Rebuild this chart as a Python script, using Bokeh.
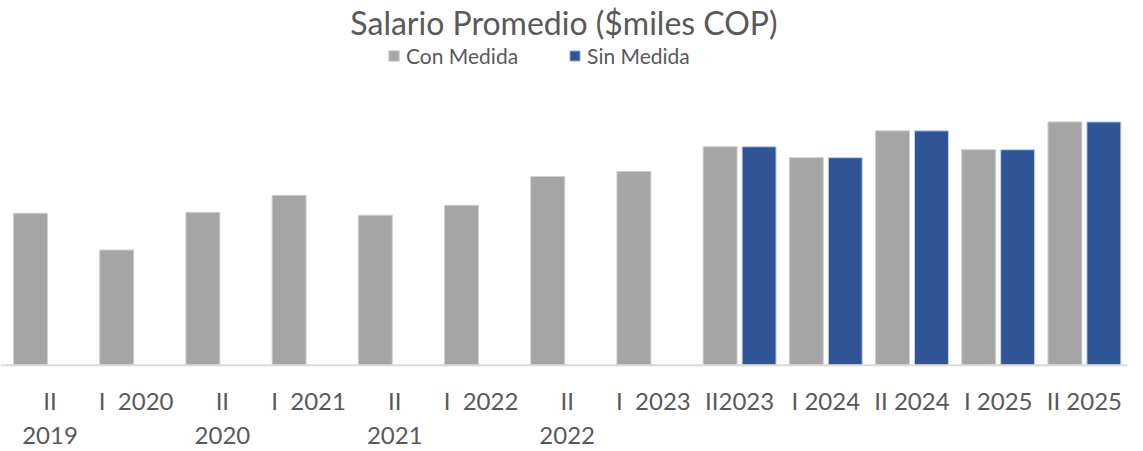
from bokeh.plotting import figure
from bokeh.models import ColumnDataSource, Range1d, Legend, LegendItem, Span
from bokeh.core.properties import value
from bokeh.embed import file_html
from bokeh.resources import INLINE

categories = ["II\n2019", "I\u00a0\u00a02020", "II\n2020", "I\u00a0\u00a02021", "II\n2021",
              "I\u00a0\u00a02022", "II\n2022", "I\u00a0\u00a02023", "II2023", "I 2024",
              "II 2024", "I 2025", "II 2025"]
con_medida = [1765, 1580, 1770, 1855, 1755, 1805, 1950, 1975, 2100, 2045, 2180, 2085, 2225]
sin_medida = [None, None, None, None, None, None, None, None, 2100, 2045, 2180, 2085, 2225]
axis_base = 1000

FONT = "Lato"
GRAY = "#a5a5a5"
BLUE = "#2f5597"
TXT = "#595959"

xs = list(range(len(categories)))
src_con = ColumnDataSource(dict(x=[x - 0.226 for x in xs], top=con_medida))
sx = [x + 0.226 for x, v in zip(xs, sin_medida) if v is not None]
sv = [v for v in sin_medida if v is not None]
src_sin = ColumnDataSource(dict(x=sx, top=sv))
src_lbl = ColumnDataSource(dict(x=xs, y=[axis_base] * len(xs), text=categories))

p = figure(width=1143, height=451, output_backend="svg", toolbar_location=None,
           x_range=Range1d(-0.574, 12.50), y_range=Range1d(565, 2630),
           x_axis_location=None, y_axis_location=None,
           min_border_left=0, min_border_right=16, min_border_top=0, min_border_bottom=0)

p.title.text = "Salario Promedio ($miles COP)"
p.title.align = "center"
p.title.text_font = FONT
p.title.text_font_size = "32px"
p.title.text_font_style = "normal"
p.title.text_color = TXT
p.title.standoff = 0

r1 = p.vbar(x="x", top="top", bottom=axis_base, width=0.394, source=src_con,
            fill_color=GRAY, line_color="#d0d0d0", line_width=1)
r2 = p.vbar(x="x", top="top", bottom=axis_base, width=0.394, source=src_sin,
            fill_color=BLUE, line_color="#c8d0e0", line_width=1)

p.add_layout(Span(location=axis_base, dimension="width", line_color="#d9d9d9", line_width=2))

p.text(x="x", y="y", text="text", source=src_lbl, text_align="center", text_baseline="top",
       y_offset=21, text_font=value(FONT), text_font_size="24px", text_color=TXT,
       text_line_height=1.18)

legend = Legend(items=[LegendItem(label="Con Medida", renderers=[r1]),
                       LegendItem(label="Sin Medida", renderers=[r2])],
                orientation="horizontal", location=(387, 383),
                label_text_font=FONT, label_text_font_size="21px", label_text_color=TXT,
                glyph_width=13, glyph_height=13, label_standoff=6, spacing=50,
                padding=0, margin=0, border_line_color=None, background_fill_alpha=0)
p.add_layout(legend)

p.xgrid.visible = False
p.ygrid.visible = False
p.outline_line_color = None

open("out.html", "w").write(file_html(p, INLINE))
